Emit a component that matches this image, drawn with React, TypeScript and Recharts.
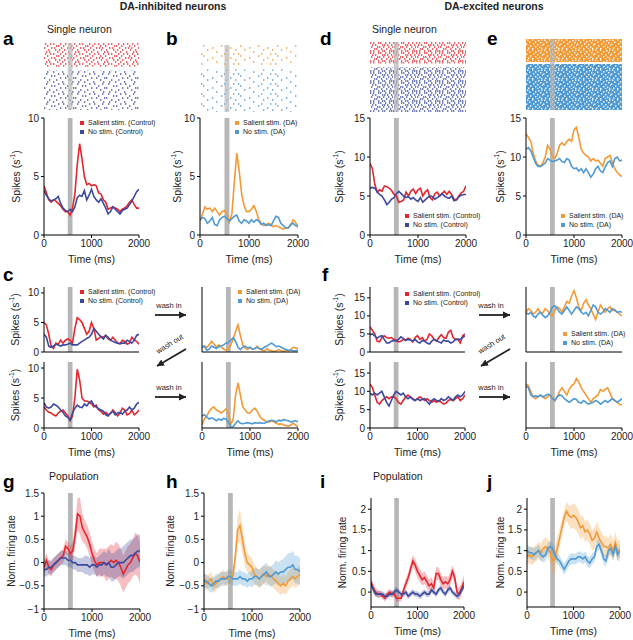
import React from 'react';
import { ComposedChart, Line, Area, XAxis, YAxis, ReferenceArea, Legend } from 'recharts';

// time bins (ms), shared by every trace
const timeMs = [0, 50, 100, 150, 200, 250, 300, 350, 400, 450, 500, 550, 600, 650, 700, 750, 800, 850, 900, 950, 1000,
  1050, 1100, 1150, 1200, 1250, 1300, 1350, 1400, 1450, 1500, 1550, 1600, 1650, 1700, 1750, 1800, 1850, 1900, 1950, 2000];
const stimWindow = [500, 600];
const timeTicks = [0, 1000, 2000];
const spikeTicks10 = [0, 5, 10];
const spikeTicks15 = [0, 5, 10, 15];
const normTicksInh = [-1, -0.5, 0, 0.5, 1, 1.5];
const normTicksExc = [0, 0.5, 1, 1.5, 2];

const legendControl = ['Salient stim. (Control)', 'No stim. (Control)'];
const legendDA = ['Salient stim. (DA)', 'No stim. (DA)'];

// trials per raster block: [salient, no stim]
const rasterTrialsA = [12, 20];
const rasterTrialsB = [10, 21];
const rasterTrialsD = [11, 23];
const rasterTrialsE = [12, 24];

// single neuron, DA-inhibited (spikes/s)
const aSalient = [4.2, 3.6, 3.0, 2.8, 3.0, 2.9, 2.7, 2.5, 2.2, 2.0, 2.0, 1.7, 2.3, 3.5, 6.0, 7.8, 6.5, 5.0, 4.3, 4.4, 4.2,
  4.3, 4.2, 3.6, 3.5, 3.0, 2.8, 2.2, 2.3, 2.4, 2.3, 2.2, 2.0, 2.2, 2.3, 2.5, 2.8, 3.0, 2.6, 2.3, 2.3];
const aNone = [3.8, 3.4, 3.1, 2.9, 3.0, 3.1, 3.3, 2.7, 2.3, 2.1, 2.0, 2.2, 2.0, 2.4, 3.2, 3.4, 3.3, 3.8, 3.0, 3.4, 3.9,
  3.3, 3.0, 2.8, 3.1, 2.7, 2.3, 1.8, 2.0, 2.4, 2.2, 2.0, 1.8, 2.1, 2.2, 2.3, 2.6, 2.9, 3.3, 3.7, 3.9];
const bSalient = [1.2, 1.8, 2.4, 2.2, 2.3, 2.0, 2.3, 2.0, 1.7, 2.0, 2.1, 1.8, 1.1, 1.8, 4.5, 7.0, 5.5, 3.5, 2.5, 2.0, 2.0,
  2.2, 2.5, 2.0, 1.3, 1.0, 0.8, 0.9, 1.0, 0.9, 0.7, 0.8, 0.7, 0.6, 0.5, 0.6, 0.6, 0.8, 1.3, 1.1, 0.6];
const bNone = [1.3, 1.5, 1.4, 1.0, 1.2, 1.5, 0.9, 0.8, 1.3, 1.5, 1.6, 1.4, 1.2, 1.4, 1.6, 1.7, 1.2, 1.0, 1.3, 1.2, 1.0,
  1.3, 1.1, 1.3, 1.2, 0.9, 1.0, 0.8, 0.9, 0.8, 1.2, 1.6, 1.5, 1.0, 0.8, 0.6, 0.6, 0.9, 1.0, 0.8, 0.8];

// single neuron, DA-excited
const dSalient = [9.2, 8.5, 6.5, 5.5, 5.8, 5.6, 6.3, 6.2, 6.0, 5.7, 5.2, 5.0, 4.2, 4.3, 4.5, 5.5, 5.0, 5.6, 5.9, 5.3, 5.8,
  6.0, 5.0, 5.5, 5.8, 4.8, 4.5, 5.3, 5.5, 5.0, 5.3, 5.6, 5.2, 5.6, 5.2, 4.6, 4.5, 5.0, 5.4, 5.6, 6.3];
const dNone = [6.0, 6.1, 6.0, 5.5, 5.2, 5.0, 4.5, 3.9, 4.2, 4.6, 4.8, 5.3, 5.6, 5.3, 5.0, 4.8, 4.9, 4.6, 4.8, 4.5, 4.3,
  4.8, 4.2, 4.5, 4.8, 5.0, 4.9, 4.6, 4.8, 5.0, 5.3, 5.0, 4.8, 4.7, 5.0, 4.4, 4.5, 4.9, 5.1, 5.2, 5.2];
const eSalient = [13.0, 12.5, 12.0, 10.5, 9.5, 9.0, 8.8, 9.2, 10.0, 11.5, 11.0, 10.0, 9.8, 10.5, 11.5, 11.8, 11.5, 12.0, 12.3, 12.0, 13.5,
  13.8, 12.5, 11.0, 10.5, 10.2, 10.0, 9.5, 9.8, 9.5, 9.6, 9.2, 8.8, 9.8, 10.0, 10.2, 9.3, 8.5, 8.0, 7.7, 7.5];
const eNone = [11.0, 11.2, 10.8, 10.0, 9.2, 8.8, 8.8, 9.0, 9.2, 9.8, 9.6, 9.4, 9.5, 9.6, 9.8, 9.4, 9.3, 9.8, 9.6, 8.8, 8.5,
  8.6, 8.2, 8.5, 8.0, 8.5, 8.0, 7.4, 7.8, 8.5, 8.8, 8.2, 8.0, 8.7, 9.3, 9.5, 8.8, 9.8, 10.0, 9.5, 9.6];

// wash in / wash out, DA-inhibited neuron
const cCtl1Salient = [5.0, 4.6, 3.0, 1.0, 0.6, 1.5, 1.3, 2.0, 1.5, 2.0, 2.2, 2.0, 1.5, 4.0, 5.8, 5.5, 5.0, 4.0, 3.0, 3.5, 5.0,
  4.0, 2.0, 2.3, 2.6, 2.5, 2.8, 2.2, 2.0, 2.5, 2.0, 1.5, 1.4, 2.0, 1.8, 1.3, 1.5, 2.5, 2.0, 1.8, 1.3];
const cCtl1None = [3.0, 2.5, 1.0, 0.8, 1.0, 1.3, 1.2, 1.0, 1.2, 1.2, 1.3, 1.5, 1.2, 1.2, 1.2, 1.5, 1.8, 2.0, 2.3, 2.5, 3.0,
  4.0, 3.5, 3.0, 2.6, 2.2, 2.8, 2.5, 2.0, 1.8, 1.6, 1.5, 1.4, 1.5, 1.5, 2.0, 1.8, 1.5, 2.0, 2.8, 3.0];
const cDa1Salient = [0.8, 1.0, 0.8, 1.2, 1.8, 1.3, 0.8, 1.2, 0.9, 0.5, 0.3, 0.5, 1.2, 2.2, 3.5, 4.6, 2.8, 1.2, 0.6, 0.4, 0.8,
  0.5, 0.6, 1.0, 0.5, 0.3, 0.2, 0.5, 0.3, 0.2, 0.1, 0.2, 0.4, 0.2, 0.1, 0.3, 0.2, 0.4, 0.8, 0.7, 0.6];
const cDa1None = [0.8, 1.0, 0.3, 0.5, 1.0, 0.8, 0.6, 0.9, 1.0, 1.2, 1.5, 1.6, 2.0, 2.4, 1.8, 0.8, 0.4, 0.8, 1.0, 0.7, 0.8,
  0.5, 0.6, 0.8, 0.6, 0.5, 0.8, 1.0, 1.3, 1.5, 1.2, 0.9, 1.0, 0.8, 0.6, 0.4, 0.3, 0.3, 0.2, 0.2, 0.3];
const cCtl2Salient = [3.5, 3.0, 2.6, 2.5, 2.2, 2.0, 2.5, 2.8, 3.0, 2.5, 2.0, 1.2, 2.0, 5.0, 9.8, 8.0, 5.0, 4.5, 4.5, 4.3, 4.0,
  3.5, 3.8, 3.0, 2.8, 2.3, 2.6, 2.2, 2.4, 3.0, 2.6, 2.0, 2.5, 3.3, 3.0, 2.2, 2.4, 3.0, 2.2, 2.5, 3.0];
const cCtl2None = [4.2, 3.5, 3.3, 3.5, 4.0, 3.8, 3.5, 3.0, 2.6, 2.0, 1.8, 1.3, 2.5, 3.3, 3.8, 3.5, 3.4, 4.0, 3.7, 4.2, 4.5,
  3.8, 3.5, 3.2, 3.0, 2.8, 2.2, 2.0, 2.5, 2.8, 2.2, 2.5, 2.6, 2.3, 2.8, 3.0, 3.5, 3.0, 3.3, 4.0, 4.3];
const cDa2Salient = [0.5, 1.5, 2.0, 2.8, 3.3, 3.5, 3.0, 2.8, 2.5, 2.8, 3.2, 2.5, 0.6, 1.5, 5.5, 7.5, 5.5, 3.5, 3.0, 2.5, 2.5,
  3.0, 3.3, 2.8, 2.0, 1.5, 1.3, 1.0, 1.0, 1.2, 1.0, 0.8, 0.6, 0.7, 0.5, 0.4, 0.3, 0.5, 0.8, 0.5, 0.2];
const cDa2None = [2.0, 2.2, 1.8, 1.5, 1.7, 1.5, 1.2, 1.5, 1.3, 1.6, 1.5, 1.0, 0.2, 0.2, 0.8, 1.2, 0.8, 0.7, 0.8, 0.9, 0.8,
  0.7, 0.9, 0.8, 0.9, 0.8, 0.8, 1.0, 1.2, 1.3, 1.2, 1.0, 1.3, 1.2, 1.4, 1.3, 1.2, 1.0, 1.1, 1.2, 1.0];

// wash in / wash out, DA-excited neuron
const fCtl1Salient = [7.0, 6.0, 5.0, 3.0, 2.8, 4.0, 4.5, 4.0, 3.8, 4.0, 3.5, 3.3, 2.8, 3.0, 3.5, 3.3, 3.8, 3.5, 2.8, 4.0, 4.5,
  3.5, 4.0, 3.0, 3.5, 5.0, 4.5, 3.5, 3.0, 4.0, 4.8, 4.0, 3.8, 5.5, 6.0, 4.0, 3.5, 3.5, 2.5, 4.5, 5.0];
const fCtl1None = [4.8, 5.0, 4.5, 3.8, 4.3, 4.5, 3.5, 2.5, 2.5, 3.0, 3.2, 3.0, 3.5, 4.2, 3.8, 3.2, 3.5, 3.3, 3.0, 3.5, 2.8,
  2.5, 3.2, 3.0, 2.5, 2.2, 3.0, 3.5, 3.2, 2.8, 2.5, 3.3, 3.0, 3.0, 2.5, 2.8, 3.5, 3.5, 3.5, 4.0, 4.5];
const fDa1Salient = [11.0, 12.0, 11.5, 10.5, 11.0, 12.0, 11.0, 10.8, 12.0, 11.5, 10.5, 10.0, 11.5, 12.5, 12.0, 11.0, 12.5, 14.0, 13.5, 15.5, 17.0,
  15.0, 12.5, 11.5, 13.5, 14.5, 13.0, 12.0, 10.5, 9.0, 11.0, 13.0, 12.0, 11.0, 12.0, 12.5, 11.5, 11.8, 11.0, 10.5, 10.0];
const fDa1None = [10.8, 10.5, 11.0, 10.0, 9.5, 10.5, 11.0, 10.2, 9.5, 10.0, 11.0, 12.5, 12.8, 12.0, 11.0, 10.5, 11.5, 12.5, 11.5, 10.5, 11.5,
  12.5, 12.0, 11.0, 10.5, 11.0, 10.0, 11.5, 13.0, 12.5, 11.0, 10.5, 11.0, 12.0, 11.5, 11.0, 12.0, 11.5, 11.0, 11.2, 11.0];
const fCtl2Salient = [12.0, 11.0, 9.0, 7.0, 6.5, 7.5, 8.0, 8.5, 8.0, 8.5, 8.5, 8.0, 7.0, 6.5, 7.5, 8.5, 9.0, 8.5, 8.0, 7.5, 8.0,
  8.5, 8.0, 7.5, 8.0, 7.5, 7.0, 7.5, 7.0, 7.5, 7.0, 6.5, 6.8, 7.5, 7.8, 7.5, 8.0, 8.5, 7.5, 8.0, 9.0];
const fCtl2None = [9.5, 9.0, 9.5, 9.0, 9.5, 10.0, 8.5, 7.0, 6.0, 7.5, 9.0, 10.0, 9.5, 9.0, 9.5, 8.5, 8.0, 8.5, 7.8, 7.5, 8.0,
  7.5, 7.8, 8.0, 7.2, 6.5, 7.5, 8.0, 7.5, 7.2, 8.0, 7.5, 7.8, 8.5, 8.0, 7.5, 8.5, 9.0, 8.5, 9.0, 10.0];
const fDa2Salient = [12.0, 11.5, 10.0, 8.5, 8.0, 8.5, 9.0, 8.5, 8.0, 8.5, 9.0, 8.5, 7.5, 8.5, 10.0, 11.0, 10.0, 9.0, 10.5, 11.5, 12.0,
  13.5, 12.5, 11.0, 10.0, 9.0, 8.0, 7.0, 8.0, 8.5, 9.0, 10.5, 10.0, 10.5, 11.0, 9.5, 8.0, 7.5, 7.0, 6.5, 6.3];
const fDa2None = [11.5, 11.0, 9.0, 8.5, 8.8, 8.5, 9.0, 8.5, 8.8, 9.2, 9.0, 8.0, 7.5, 8.5, 9.0, 8.8, 8.0, 7.5, 7.0, 7.5, 8.0,
  7.8, 7.0, 6.8, 7.5, 7.0, 6.5, 6.8, 7.0, 7.5, 7.2, 6.5, 7.0, 7.5, 7.0, 7.5, 8.0, 7.5, 7.0, 7.5, 8.0];

// population, DA-inhibited: mean and s.e.m. half-width
const gSalientMean = [-0.1, 0.05, -0.1, -0.15, -0.05, 0.0, 0.05, 0.1, 0.15, 0.35, 0.3, 0.2, 0.25, 0.6, 1.05, 1.0, 0.75, 0.65, 0.55, 0.4, 0.2,
  0.05, -0.05, 0.0, 0.0, 0.0, -0.05, 0.0, 0.05, 0.0, 0.05, 0.0, -0.1, -0.25, -0.15, -0.05, 0.0, 0.1, 0.2, 0.15, 0.0];
const gSalientErr = [0.15, 0.15, 0.15, 0.15, 0.15, 0.15, 0.15, 0.15, 0.15, 0.15, 0.15, 0.15, 0.2, 0.25, 0.35, 0.4, 0.3, 0.25, 0.25, 0.25, 0.25,
  0.25, 0.25, 0.3, 0.3, 0.3, 0.35, 0.35, 0.35, 0.35, 0.4, 0.4, 0.4, 0.4, 0.4, 0.4, 0.4, 0.4, 0.45, 0.45, 0.45];
const gNoneMean = [-0.15, -0.15, -0.1, -0.1, -0.05, 0.0, 0.05, 0.1, 0.1, 0.1, 0.05, 0.05, 0.0, 0.0, -0.05, -0.05, -0.05, -0.05, -0.05, -0.1, -0.05,
  -0.05, -0.1, -0.05, -0.05, 0.0, -0.05, 0.0, -0.1, -0.1, -0.05, 0.0, 0.0, 0.0, 0.05, 0.1, 0.15, 0.15, 0.2, 0.25, 0.25];
const gNoneErr = [0.15, 0.15, 0.15, 0.15, 0.15, 0.15, 0.15, 0.15, 0.15, 0.15, 0.15, 0.15, 0.15, 0.15, 0.15, 0.15, 0.15, 0.2, 0.2, 0.2, 0.2,
  0.2, 0.2, 0.2, 0.25, 0.25, 0.25, 0.3, 0.3, 0.3, 0.3, 0.3, 0.3, 0.35, 0.35, 0.35, 0.35, 0.35, 0.35, 0.35, 0.35];
const hSalientMean = [-0.35, -0.45, -0.4, -0.35, -0.5, -0.45, -0.4, -0.35, -0.3, -0.35, -0.35, -0.3, -0.3, 0.1, 0.7, 0.8, 0.5, 0.2, 0.0, -0.05, -0.1,
  -0.25, -0.3, -0.35, -0.3, -0.25, -0.3, -0.25, -0.3, -0.35, -0.4, -0.45, -0.5, -0.45, -0.5, -0.4, -0.35, -0.3, -0.35, -0.3, -0.25];
const hSalientErr = [0.15, 0.15, 0.15, 0.15, 0.15, 0.15, 0.15, 0.15, 0.15, 0.15, 0.15, 0.15, 0.15, 0.2, 0.3, 0.35, 0.3, 0.25, 0.2, 0.2, 0.2,
  0.2, 0.2, 0.2, 0.2, 0.2, 0.2, 0.2, 0.2, 0.2, 0.2, 0.2, 0.2, 0.2, 0.2, 0.2, 0.2, 0.2, 0.2, 0.2, 0.2];
const hNoneMean = [-0.4, -0.4, -0.45, -0.5, -0.45, -0.4, -0.4, -0.35, -0.35, -0.35, -0.3, -0.3, -0.35, -0.35, -0.35, -0.3, -0.35, -0.35, -0.4, -0.35, -0.35,
  -0.3, -0.3, -0.35, -0.3, -0.25, -0.2, -0.3, -0.3, -0.25, -0.2, -0.25, -0.2, -0.2, -0.15, -0.1, -0.1, -0.05, -0.15, -0.15, -0.2];
const hNoneErr = [0.15, 0.15, 0.15, 0.15, 0.15, 0.15, 0.15, 0.15, 0.15, 0.15, 0.15, 0.15, 0.15, 0.15, 0.15, 0.15, 0.15, 0.15, 0.15, 0.15, 0.18,
  0.18, 0.18, 0.18, 0.2, 0.2, 0.2, 0.2, 0.22, 0.22, 0.25, 0.25, 0.25, 0.28, 0.28, 0.3, 0.3, 0.3, 0.3, 0.3, 0.3];

// population, DA-excited
const iSalientMean = [0.25, 0.1, 0.0, -0.05, -0.05, -0.1, -0.15, -0.05, 0.0, -0.05, -0.05, -0.15, -0.15, -0.15, 0.05, 0.2, 0.35, 0.55, 0.75, 0.65, 0.5,
  0.4, 0.3, 0.35, 0.25, 0.15, 0.2, 0.1, 0.45, 0.45, 0.3, 0.2, 0.25, 0.2, 0.3, 0.5, 0.35, 0.0, -0.05, 0.1, 0.25];
const iSalientErr = [0.1, 0.1, 0.1, 0.1, 0.08, 0.08, 0.08, 0.08, 0.08, 0.08, 0.08, 0.08, 0.08, 0.08, 0.1, 0.12, 0.12, 0.14, 0.15, 0.15, 0.15,
  0.15, 0.15, 0.15, 0.15, 0.15, 0.15, 0.15, 0.15, 0.15, 0.15, 0.15, 0.15, 0.15, 0.15, 0.15, 0.15, 0.15, 0.15, 0.15, 0.15];
const iNoneMean = [0.2, 0.05, -0.05, -0.05, -0.05, -0.05, -0.1, -0.1, -0.05, -0.05, 0.0, 0.05, 0.0, -0.05, -0.05, 0.0, -0.1, -0.05, 0.0, -0.05, -0.05,
  -0.1, -0.05, 0.0, -0.05, -0.05, 0.05, 0.0, -0.05, 0.05, 0.1, 0.0, -0.05, 0.05, 0.1, 0.0, -0.05, -0.1, -0.05, 0.05, 0.15];
const iNoneErr = [0.08, 0.08, 0.07, 0.07, 0.07, 0.07, 0.07, 0.07, 0.07, 0.07, 0.08, 0.08, 0.08, 0.07, 0.07, 0.07, 0.07, 0.07, 0.07, 0.07, 0.07,
  0.07, 0.07, 0.07, 0.07, 0.07, 0.07, 0.07, 0.07, 0.07, 0.07, 0.07, 0.07, 0.07, 0.07, 0.07, 0.07, 0.07, 0.07, 0.08, 0.08];
const jSalientMean = [0.85, 0.9, 0.85, 0.9, 0.95, 1.0, 0.95, 1.05, 1.1, 1.05, 0.95, 0.75, 0.8, 1.05, 1.3, 1.55, 1.8, 1.95, 1.85, 1.8, 1.85,
  1.8, 1.7, 1.55, 1.6, 1.45, 1.5, 1.4, 1.25, 1.3, 1.45, 1.3, 1.2, 1.1, 1.1, 1.05, 1.15, 1.0, 1.2, 1.0, 1.0];
const jSalientErr = [0.2, 0.2, 0.2, 0.2, 0.2, 0.2, 0.22, 0.22, 0.22, 0.22, 0.25, 0.3, 0.3, 0.25, 0.22, 0.2, 0.2, 0.22, 0.25, 0.28, 0.3,
  0.3, 0.28, 0.28, 0.25, 0.25, 0.25, 0.25, 0.25, 0.25, 0.25, 0.25, 0.25, 0.25, 0.25, 0.25, 0.25, 0.25, 0.25, 0.25, 0.25];
const jNoneMean = [1.0, 0.95, 0.95, 0.9, 0.95, 1.0, 0.9, 0.85, 0.9, 1.05, 1.1, 1.05, 0.9, 0.8, 0.75, 0.65, 0.55, 0.65, 0.75, 0.8, 0.8,
  0.8, 0.85, 0.85, 0.8, 0.85, 0.75, 0.7, 0.8, 0.85, 1.1, 1.15, 1.0, 0.8, 0.75, 1.0, 1.05, 0.9, 1.1, 0.9, 1.0];
const jNoneErr = [0.15, 0.15, 0.15, 0.15, 0.14, 0.14, 0.14, 0.14, 0.14, 0.14, 0.14, 0.14, 0.14, 0.13, 0.13, 0.13, 0.13, 0.13, 0.13, 0.13, 0.13,
  0.13, 0.13, 0.13, 0.13, 0.13, 0.13, 0.13, 0.13, 0.13, 0.13, 0.13, 0.13, 0.13, 0.13, 0.13, 0.13, 0.13, 0.14, 0.14, 0.15];

const RED = '#e3262d';
const NAVY = '#3b4a9c';
const ORANGE = '#f29a36';
const SKY = '#4f9ad4';
const BAR = '#b7b7b7';
const INK = '#222';
const FONT = '"Liberation Sans", Arial, Helvetica, sans-serif';

const ML = 40;
const MR = 16;
const MT = 8;

type Box = { x0: number; x1: number; yT: number; yB: number };

const traceRows = (cols: number[][]) =>
  timeMs.map((t, i) => {
    const row: any = { t };
    cols.forEach((c, k) => (row['s' + k] = c[i]));
    return row;
  });

const bandRows = (pairs: number[][][]) =>
  timeMs.map((t, i) => {
    const row: any = { t };
    pairs.forEach(([m, e], k) => {
      row['s' + k] = m[i];
      row['r' + k] = [m[i] - e[i], m[i] + e[i]];
    });
    return row;
  });

const fmtTick = (v: number) => String(v).replace('-', '\u2212');

const sideTitle = (kind: 'spikes' | 'norm', pageX: number, chartLeft: number) => (props: any) => {
  const vb = props.viewBox || { x: 0, y: 0, height: 0 };
  const cx = pageX - chartLeft;
  const cy = vb.y + vb.height / 2;
  return (
    <text x={cx} y={cy} transform={`rotate(-90 ${cx} ${cy})`} textAnchor="middle" dominantBaseline="central"
      fontSize={kind === 'spikes' ? 10.5 : 10} fill={INK}>
      {kind === 'spikes' ? (
        <>
          Spikes (s<tspan fontSize={6.5} dy={-4}>-1</tspan><tspan dy={4}>)</tspan>
        </>
      ) : 'Norm. firing rate'}
    </text>
  );
};

const bottomTitle = (dy: number) => (props: any) => {
  const vb = props.viewBox || { x: 0, y: 0, width: 0 };
  return (
    <text x={vb.x + vb.width / 2} y={vb.y + dy} textAnchor="middle" dominantBaseline="central" fontSize={10.5} fill={INK}>
      Time (ms)
    </text>
  );
};

const keyContent = (labels: string[], colors: string[]) => () => (
  <div style={{ fontSize: 7, lineHeight: '8.5px', color: INK, fontFamily: FONT }}>
    {labels.map((l, i) => (
      <div key={l} style={{ display: 'flex', alignItems: 'center', whiteSpace: 'nowrap' }}>
        <span style={{ display: 'inline-block', width: 4, height: 4, background: colors[i], marginRight: 4 }} />
        {l}
      </div>
    ))}
  </div>
);

type TraceProps = {
  box: Box;
  domain: number[];
  yTicks: number[];
  lines: number[][];
  colors: string[];
  errs?: number[][];
  xLabels?: boolean;
  yLabels?: boolean;
  title?: 'spikes' | 'norm';
  titleX?: number;
  key2?: { labels: string[]; x: number; y: number };
};

function Trace({ box, domain, yTicks, lines, colors, errs, xLabels = true, yLabels = true, title, titleX = 0, key2 }: TraceProps) {
  const XH = xLabels ? 32 : 6;
  const left = box.x0 - ML;
  const top = box.yT - MT;
  const width = box.x1 - box.x0 + ML + MR;
  const height = box.yB - box.yT + MT + XH;
  const data = errs ? bandRows(lines.map((m, k) => [m, errs[k]])) : traceRows(lines);
  return (
    <div style={{ position: 'absolute', left, top }}>
      <ComposedChart width={width} height={height} data={data} margin={{ top: MT, right: MR, left: 0, bottom: 0 }}>
        <XAxis dataKey="t" type="number" domain={[0, 2000]} ticks={timeTicks} interval={0} allowDataOverflow
          height={XH} tickSize={3} axisLine={{ stroke: '#000' }} tickLine={{ stroke: '#000' }}
          tick={xLabels ? { fontSize: 10, fill: INK } : false}
          label={xLabels ? { content: bottomTitle(24) } : undefined} />
        <YAxis type="number" domain={domain} ticks={yTicks} interval={0} allowDataOverflow width={ML}
          tickSize={3} axisLine={{ stroke: '#000' }} tickLine={{ stroke: '#000' }} tickFormatter={fmtTick}
          tick={yLabels ? { fontSize: 10, fill: INK } : false}
          label={title ? { content: sideTitle(title, titleX, left) } : undefined} />
        <ReferenceArea x1={stimWindow[0]} x2={stimWindow[1]} fill={BAR} fillOpacity={1} stroke="none" />
        {errs && lines.map((_, k) => (
          <Area key={'r' + k} dataKey={'r' + k} type="linear" stroke="none" fill={colors[k]} fillOpacity={0.3}
            isAnimationActive={false} />
        ))}
        {lines.map((_, k) => (
          <Line key={'s' + k} dataKey={'s' + k} type="linear" stroke={colors[k]} strokeWidth={1.6} dot={false}
            activeDot={false} isAnimationActive={false} />
        ))}
        {key2 && (
          <Legend content={keyContent(key2.labels, colors)} layout="horizontal" verticalAlign="middle" align="center"
            wrapperStyle={{ left: key2.x - left, top: key2.y - top, width: 'auto' }} />
        )}
      </ComposedChart>
    </div>
  );
}

// an invisible anchor series keeps the raster chart drawing its reference blocks
const rasterData = timeMs.map((t) => ({ t, anchor: 0 }));

function Raster({ box, trials, gap, fills }: { box: Box; trials: number[]; gap: number; fills: string[] }) {
  const total = trials[0] + gap + trials[1];
  return (
    <div style={{ position: 'absolute', left: box.x0, top: box.yT }}>
      <ComposedChart width={box.x1 - box.x0} height={box.yB - box.yT} data={rasterData}
        margin={{ top: 0, right: 0, left: 0, bottom: 0 }}>
        <XAxis dataKey="t" type="number" domain={[0, 2000]} allowDataOverflow hide />
        <YAxis type="number" domain={[0, total]} allowDataOverflow reversed hide />
        <ReferenceArea y1={0} y2={trials[0]} fill={`url(#${fills[0]})`} fillOpacity={1} stroke="none" />
        <ReferenceArea y1={trials[0] + gap} y2={total} fill={`url(#${fills[1]})`} fillOpacity={1} stroke="none" />
        <ReferenceArea x1={stimWindow[0]} x2={stimWindow[1]} fill={BAR} fillOpacity={0.7} stroke="none" />
        <Line dataKey="anchor" stroke="none" dot={false} activeDot={false} isAnimationActive={false} />
      </ComposedChart>
    </div>
  );
}

// dot tiles for the spike rasters (texture only, one dot row every 2 px)
type Tile = { w: number; h: number; dots: number[][]; solid?: boolean };
const tileSparse: Tile = { w: 37, h: 10, dots: [[3, 0.3], [21, 0.3], [12, 2.3], [30, 2.3], [7, 4.3], [26, 4.3], [35, 4.3],
  [16, 6.3], [1, 8.3], [24, 8.3], [33, 8.3]] };
const tileMedium: Tile = { w: 31, h: 10, dots: [[2, 0.3], [14, 0.3], [19, 0.3], [27, 0.3], [7, 2.3], [10, 2.3], [23, 2.3],
  [0, 4.3], [16, 4.3], [21, 4.3], [29, 4.3], [5, 6.3], [12, 6.3], [25, 6.3], [3, 8.3], [9, 8.3], [18, 8.3], [28, 8.3]] };
const tileBusy: Tile = { w: 29, h: 10, dots: [[1, 0.3], [6, 0.3], [9, 0.3], [16, 0.3], [21, 0.3], [25, 0.3], [3, 2.3], [12, 2.3],
  [14, 2.3], [19, 2.3], [27, 2.3], [0, 4.3], [7, 4.3], [10, 4.3], [17, 4.3], [23, 4.3], [26, 4.3], [4, 6.3], [11, 6.3],
  [15, 6.3], [20, 6.3], [28, 6.3], [2, 8.3], [5, 8.3], [13, 8.3], [18, 8.3], [24, 8.3]] };
const tileDense: Tile = { w: 23, h: 10, dots: [[0, 0.3], [3, 0.3], [8, 0.3], [10, 0.3], [15, 0.3], [19, 0.3], [2, 2.3], [5, 2.3],
  [12, 2.3], [14, 2.3], [17, 2.3], [21, 2.3], [1, 4.3], [7, 4.3], [9, 4.3], [13, 4.3], [18, 4.3], [22, 4.3], [4, 6.3], [6, 6.3],
  [11, 6.3], [16, 6.3], [20, 6.3], [0, 8.3], [3, 8.3], [8, 8.3], [12, 8.3], [14, 8.3], [19, 8.3], [21, 8.3]] };
const tileSpeck: Tile = { w: 17, h: 10, solid: true, dots: [[1, 0.5], [6, 0.2], [12, 1], [15, 0.4], [3, 2.5], [9, 2.2], [14, 3],
  [0, 4.5], [7, 4.2], [11, 5], [16, 5.5], [4, 6.3], [9, 7], [13, 7.5], [2, 8.5], [6, 9], [11, 9.2], [15, 8.8]] };

const patterns = [
  { id: 'rasA0', color: RED, tile: tileBusy },
  { id: 'rasA1', color: NAVY, tile: tileMedium },
  { id: 'rasB0', color: ORANGE, tile: tileSparse },
  { id: 'rasB1', color: SKY, tile: tileSparse },
  { id: 'rasD0', color: RED, tile: tileDense },
  { id: 'rasD1', color: NAVY, tile: tileDense },
  { id: 'rasE0', color: ORANGE, tile: tileSpeck },
  { id: 'rasE1', color: SKY, tile: tileSpeck },
];

function Arrow({ x1, y1, x2, y2 }: { x1: number; y1: number; x2: number; y2: number }) {
  return <line x1={x1} y1={y1} x2={x2} y2={y2} stroke="#222" strokeWidth={1.8} markerEnd="url(#head)" />;
}

export default function App() {
  const letters = [
    ['a', 3, 45], ['b', 166, 45], ['c', 3, 281], ['d', 320, 45], ['e', 487, 45],
    ['f', 322, 281], ['g', 3, 488], ['h', 166, 488], ['i', 320, 488], ['j', 487, 488],
  ] as const;
  return (
    <div style={{ position: 'absolute', left: 0, top: 0, width: 633, height: 640, background: '#fff', fontFamily: FONT }}>
      <svg width={1} height={1} style={{ position: 'absolute', left: 0, top: 0 }}>
        <defs>
          {patterns.map((p) => (
            <pattern key={p.id} id={p.id} width={p.tile.w} height={p.tile.h} patternUnits="userSpaceOnUse">
              {p.tile.solid && <rect x={0} y={0} width={p.tile.w} height={p.tile.h} fill={p.color} />}
              {p.tile.dots.map(([x, y], i) => (
                <rect key={i} x={x} y={y} width={1.4} height={1.4} fill={p.tile.solid ? '#fff' : p.color} />
              ))}
            </pattern>
          ))}
        </defs>
      </svg>

      <Raster box={{ x0: 44, x1: 139, yT: 43, yB: 110 }} trials={rasterTrialsA} gap={2} fills={['rasA0', 'rasA1']} />
      <Raster box={{ x0: 200, x1: 298, yT: 45, yB: 112 }} trials={rasterTrialsB} gap={2} fills={['rasB0', 'rasB1']} />
      <Raster box={{ x0: 370, x1: 466, yT: 42, yB: 112 }} trials={rasterTrialsD} gap={2} fills={['rasD0', 'rasD1']} />
      <Raster box={{ x0: 526, x1: 622, yT: 39, yB: 110 }} trials={rasterTrialsE} gap={1} fills={['rasE0', 'rasE1']} />

      <Trace box={{ x0: 44, x1: 139, yT: 118, yB: 235 }} domain={[0, 10]} yTicks={spikeTicks10} lines={[aSalient, aNone]}
        colors={[RED, NAVY]} title="spikes" titleX={16} key2={{ labels: legendControl, x: 80, y: 119 }} />
      <Trace box={{ x0: 200, x1: 298, yT: 118, yB: 235 }} domain={[0, 10]} yTicks={spikeTicks10} lines={[bSalient, bNone]}
        colors={[ORANGE, SKY]} title="spikes" titleX={177} key2={{ labels: legendDA, x: 235, y: 119 }} />
      <Trace box={{ x0: 370, x1: 466, yT: 118, yB: 235 }} domain={[0, 15]} yTicks={spikeTicks15} lines={[dSalient, dNone]}
        colors={[RED, NAVY]} title="spikes" titleX={339} key2={{ labels: legendControl, x: 405, y: 212 }} />
      <Trace box={{ x0: 526, x1: 622, yT: 118, yB: 235 }} domain={[0, 15]} yTicks={spikeTicks15} lines={[eSalient, eNone]}
        colors={[ORANGE, SKY]} title="spikes" titleX={500} key2={{ labels: legendDA, x: 561, y: 212 }} />

      <Trace box={{ x0: 44, x1: 139, yT: 287, yB: 352 }} domain={[0, 11]} yTicks={spikeTicks10} lines={[cCtl1Salient, cCtl1None]}
        colors={[RED, NAVY]} xLabels={false} title="spikes" titleX={15} key2={{ labels: legendControl, x: 80, y: 288 }} />
      <Trace box={{ x0: 202, x1: 298, yT: 287, yB: 352 }} domain={[0, 11]} yTicks={spikeTicks10} lines={[cDa1Salient, cDa1None]}
        colors={[ORANGE, SKY]} xLabels={false} yLabels={false} key2={{ labels: legendDA, x: 238, y: 288 }} />
      <Trace box={{ x0: 44, x1: 139, yT: 362, yB: 428 }} domain={[0, 11]} yTicks={spikeTicks10} lines={[cCtl2Salient, cCtl2None]}
        colors={[RED, NAVY]} title="spikes" titleX={15} />
      <Trace box={{ x0: 202, x1: 298, yT: 362, yB: 428 }} domain={[0, 11]} yTicks={spikeTicks10} lines={[cDa2Salient, cDa2None]}
        colors={[ORANGE, SKY]} yLabels={false} />

      <Trace box={{ x0: 370, x1: 465, yT: 287, yB: 352 }} domain={[0, 18]} yTicks={spikeTicks15} lines={[fCtl1Salient, fCtl1None]}
        colors={[RED, NAVY]} xLabels={false} title="spikes" titleX={339} key2={{ labels: legendControl, x: 405, y: 290 }} />
      <Trace box={{ x0: 526, x1: 622, yT: 287, yB: 352 }} domain={[0, 18]} yTicks={spikeTicks15} lines={[fDa1Salient, fDa1None]}
        colors={[ORANGE, SKY]} xLabels={false} yLabels={false} key2={{ labels: legendDA, x: 563, y: 330 }} />
      <Trace box={{ x0: 370, x1: 465, yT: 362, yB: 428 }} domain={[0, 18]} yTicks={spikeTicks15} lines={[fCtl2Salient, fCtl2None]}
        colors={[RED, NAVY]} title="spikes" titleX={339} />
      <Trace box={{ x0: 526, x1: 622, yT: 362, yB: 428 }} domain={[0, 18]} yTicks={spikeTicks15} lines={[fDa2Salient, fDa2None]}
        colors={[ORANGE, SKY]} yLabels={false} />

      <Trace box={{ x0: 44, x1: 140, yT: 493, yB: 609 }} domain={[-1, 1.5]} yTicks={normTicksInh}
        lines={[gSalientMean, gNoneMean]} errs={[gSalientErr, gNoneErr]} colors={[RED, NAVY]} title="norm" titleX={11} />
      <Trace box={{ x0: 204, x1: 300, yT: 493, yB: 609 }} domain={[-1, 1.5]} yTicks={normTicksInh}
        lines={[hSalientMean, hNoneMean]} errs={[hSalientErr, hNoneErr]} colors={[ORANGE, SKY]} title="norm" titleX={170} />
      <Trace box={{ x0: 371, x1: 464, yT: 498, yB: 607 }} domain={[-0.36, 2.27]} yTicks={normTicksExc}
        lines={[iSalientMean, iNoneMean]} errs={[iSalientErr, iNoneErr]} colors={[RED, NAVY]} title="norm" titleX={342} />
      <Trace box={{ x0: 527, x1: 620, yT: 498, yB: 607 }} domain={[-0.36, 2.27]} yTicks={normTicksExc}
        lines={[jSalientMean, jNoneMean]} errs={[jSalientErr, jNoneErr]} colors={[ORANGE, SKY]} title="norm" titleX={500} />

      <svg width={633} height={640} style={{ position: 'absolute', left: 0, top: 0, pointerEvents: 'none' }}>
        <defs>
          <marker id="head" markerWidth={8} markerHeight={8} refX={7} refY={4} orient="auto" markerUnits="userSpaceOnUse">
            <path d="M0,0.5 L7.5,4 L0,7.5 z" fill="#222" />
          </marker>
        </defs>
        <text x={173} y={10} textAnchor="middle" fontSize={10.5} fontWeight="bold" fill={INK}>DA-inhibited neurons</text>
        <text x={494} y={10} textAnchor="middle" fontSize={10.5} fontWeight="bold" fill={INK}>DA-excited neurons</text>
        {letters.map(([l, x, y]) => (
          <text key={l} x={x} y={y} fontSize={19} fontWeight="bold" fill="#000">{l}</text>
        ))}
        <text x={47} y={33} fontSize={10.5} fill={INK}>Single neuron</text>
        <text x={372} y={33} fontSize={10.5} fill={INK}>Single neuron</text>
        <text x={49} y={480} fontSize={10.5} fill={INK}>Population</text>
        <text x={373} y={480} fontSize={10.5} fill={INK}>Population</text>

        <text x={169} y={308} textAnchor="middle" fontSize={7.5} fill={INK}>wash in</text>
        <Arrow x1={155} y1={315} x2={186} y2={315} />
        <text x={171} y={346} textAnchor="middle" fontSize={7.5} fill={INK} transform="rotate(-32 171 346)">wash out</text>
        <Arrow x1={186} y1={349} x2={157} y2={366} />
        <text x={169} y={390} textAnchor="middle" fontSize={7.5} fill={INK}>wash in</text>
        <Arrow x1={155} y1={397} x2={186} y2={397} />

        <text x={491} y={308} textAnchor="middle" fontSize={7.5} fill={INK}>wash in</text>
        <Arrow x1={479} y1={315} x2={510} y2={315} />
        <text x={493} y={346} textAnchor="middle" fontSize={7.5} fill={INK} transform="rotate(-32 493 346)">wash out</text>
        <Arrow x1={510} y1={349} x2={481} y2={366} />
        <text x={491} y={390} textAnchor="middle" fontSize={7.5} fill={INK}>wash in</text>
        <Arrow x1={479} y1={397} x2={510} y2={397} />
      </svg>
    </div>
  );
}
